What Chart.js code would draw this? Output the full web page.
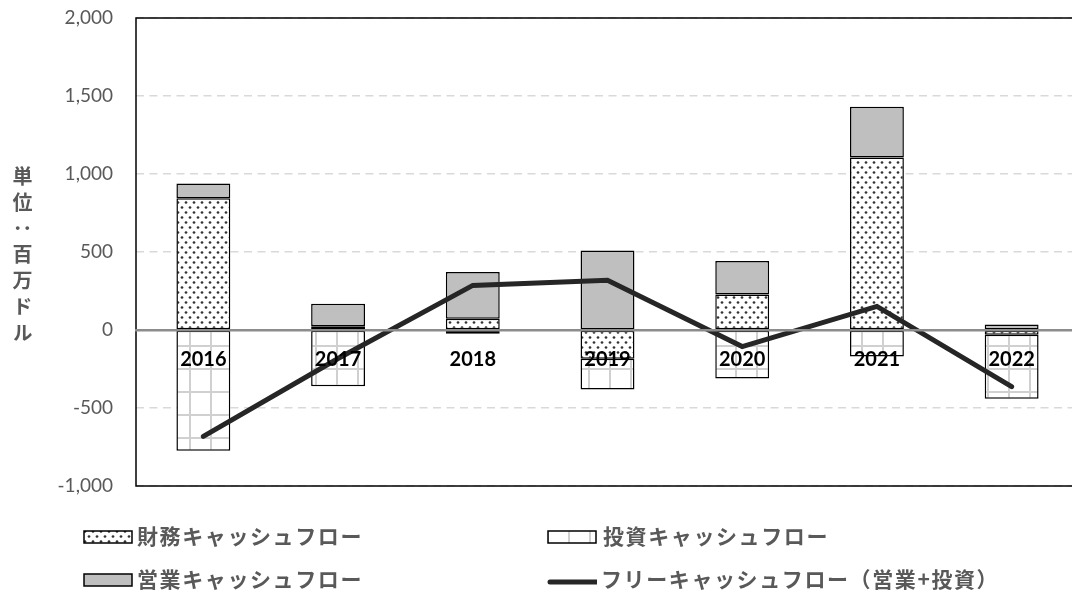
<!DOCTYPE html>
<html lang="ja">
<head>
<meta charset="utf-8">
<script src="https://cdn.jsdelivr.net/npm/chart.js@4.4.1/dist/chart.umd.min.js"></script>
<style>
  html, body { margin: 0; padding: 0; background: #fff; overflow: hidden; }
  #wrap { position: relative; width: 1072px; height: 592px; overflow: hidden; }
  #chart { position: absolute; left: 0; top: 0; }
  #ytitle {
    position: absolute; left: 11px; top: 166px;
    writing-mode: vertical-rl;
    font: bold 20px "Noto Sans CJK JP", sans-serif;
    line-height: 22px; letter-spacing: 6px; color: #595959;
  }
  .lg {
    position: absolute; display: flex; align-items: center; height: 30px;
    font: bold 21px "Noto Sans CJK JP", sans-serif; line-height: 30px;
    letter-spacing: 1.6px; color: #595959; white-space: nowrap;
  }
  .lg span { position: relative; top: -2px; }
  .lg canvas { display: block; }
</style>
</head>
<body>
<div id="wrap">
  <canvas id="chart" width="1080" height="592"></canvas>
  <div id="ytitle">単位：百万ドル</div>
  <div id="legend"></div>
</div>
<script>
// Fiscal years and cash-flow components (million USD)
const years = ['2016', '2017', '2018', '2019', '2020', '2021', '2022'];
const financingCF = [845, 24, 72, -185, 228, 1106, -31];
const investingCF = [-774, -361, -24, -197, -311, -170, -409];
const operatingCF = [94, 144, 300, 510, 214, 325, 35];
const freeCF = [-682, -183, 286, 319, -106, 151, -363];

const yTicks = { min: -1000, max: 2000, step: 500 };

const seriesNames = {
  financing: '財務キャッシュフロー',
  investing: '投資キャッシュフロー',
  operating: '営業キャッシュフロー',
  free: 'フリーキャッシュフロー（営業+投資）'
};

// Fill patterns: dotted for financing, light grid for investing
function makeDotPattern() {
  const c = document.createElement('canvas');
  c.width = 8; c.height = 10;
  const g = c.getContext('2d');
  g.fillStyle = '#ffffff'; g.fillRect(0, 0, 8, 10);
  g.fillStyle = '#333333';
  [[2, 2.5], [6, 7.5]].forEach(([x, y]) => {
    g.beginPath(); g.arc(x, y, 1.35, 0, Math.PI * 2); g.fill();
  });
  return g.createPattern(c, 'repeat');
}
function makeGridPattern() {
  const c = document.createElement('canvas');
  c.width = 21; c.height = 23;
  const g = c.getContext('2d');
  g.fillStyle = '#ffffff'; g.fillRect(0, 0, 21, 23);
  g.fillStyle = '#d0d0d0';
  g.fillRect(0, 0, 2, 23);
  g.fillRect(0, 0, 21, 2);
  return g.createPattern(c, 'repeat');
}
const dotFill = makeDotPattern();
const gridFill = makeGridPattern();
const operatingFill = '#bfbfbf';
const lineColor = '#262626';

// Plot frame around the chart area
const plotFrame = {
  id: 'plotFrame',
  beforeDatasetsDraw(chart) {
    const { ctx, chartArea: a } = chart;
    ctx.save();
    ctx.strokeStyle = '#000';
    ctx.lineWidth = 1.5;
    ctx.strokeRect(a.left, a.top, a.right - a.left, a.bottom - a.top);
    ctx.restore();
  }
};

const barCommon = {
  type: 'bar', stack: 'cf', order: 1,
  borderColor: '#000', borderWidth: 1.5, borderSkipped: false,
  barPercentage: 0.4, categoryPercentage: 1.0
};

new Chart(document.getElementById('chart'), {
  type: 'bar',
  data: {
    labels: years,
    datasets: [
      { ...barCommon, label: seriesNames.financing, data: financingCF, backgroundColor: dotFill },
      { ...barCommon, label: seriesNames.investing, data: investingCF, backgroundColor: gridFill },
      { ...barCommon, label: seriesNames.operating, data: operatingCF, backgroundColor: operatingFill },
      {
        type: 'line', label: seriesNames.free, data: freeCF, stack: 'free', order: 0,
        borderColor: lineColor, borderWidth: 5, pointRadius: 0, tension: 0,
        borderCapStyle: 'round', fill: false
      }
    ]
  },
  options: {
    responsive: false,
    animation: false,
    devicePixelRatio: 1,
    locale: 'en-US',
    layout: { padding: { top: 18, right: 1, bottom: 106, left: 0 } },
    plugins: { legend: { display: false }, tooltip: { enabled: false }, title: { display: false } },
    scales: {
      x: {
        stacked: true,
        offset: true,
        position: { y: 0 },
        grid: { display: false, drawTicks: false },
        border: { display: true, color: '#8c8c8c', width: 2.5, z: 1 },
        ticks: { z: 1, color: '#000', padding: 18, font: { family: 'Lato', size: 20, weight: 'bold' } }
      },
      y: {
        stacked: true,
        min: yTicks.min, max: yTicks.max,
        afterFit(scale) {
          scale.width = 136;
          scale.paddingTop = 0;
          scale.paddingBottom = 0;
        },
        grid: { color: '#d9d9d9', lineWidth: 1.5, drawTicks: false },
        border: { display: false, dash: [8, 5.5] },
        ticks: {
          stepSize: yTicks.step, padding: 23, color: '#595959',
          font: { family: 'Lato', size: 19 }
        }
      }
    }
  },
  plugins: [plotFrame]
});

// Two-column legend below the plot
const legendItems = [
  { text: seriesNames.financing, kind: 'box', fill: dotFill, x: 83, y: 522, textGap: 4 },
  { text: seriesNames.investing, kind: 'box', fill: gridFill, x: 547, y: 522, textGap: 6 },
  { text: seriesNames.operating, kind: 'box', fill: operatingFill, x: 83, y: 565, textGap: 4 },
  { text: seriesNames.free, kind: 'line', fill: lineColor, x: 547, y: 565, textGap: 4 }
];
const legendEl = document.getElementById('legend');
legendItems.forEach(item => {
  const row = document.createElement('div');
  row.className = 'lg';
  row.style.left = item.x + 'px';
  row.style.top = item.y + 'px';
  const sw = document.createElement('canvas');
  sw.width = 50; sw.height = 16;
  sw.style.marginRight = item.textGap + 'px';
  const g = sw.getContext('2d');
  if (item.kind === 'box') {
    g.fillStyle = item.fill;
    g.fillRect(1, 2, 48, 12);
    g.strokeStyle = '#000'; g.lineWidth = 1.5;
    g.strokeRect(1, 2, 48, 12);
  } else {
    g.strokeStyle = item.fill; g.lineWidth = 5; g.lineCap = 'round';
    g.beginPath(); g.moveTo(3, 10); g.lineTo(50, 10); g.stroke();
  }
  row.appendChild(sw);
  const label = document.createElement('span');
  label.textContent = item.text;
  row.appendChild(label);
  legendEl.appendChild(row);
});
</script>
</body>
</html>
